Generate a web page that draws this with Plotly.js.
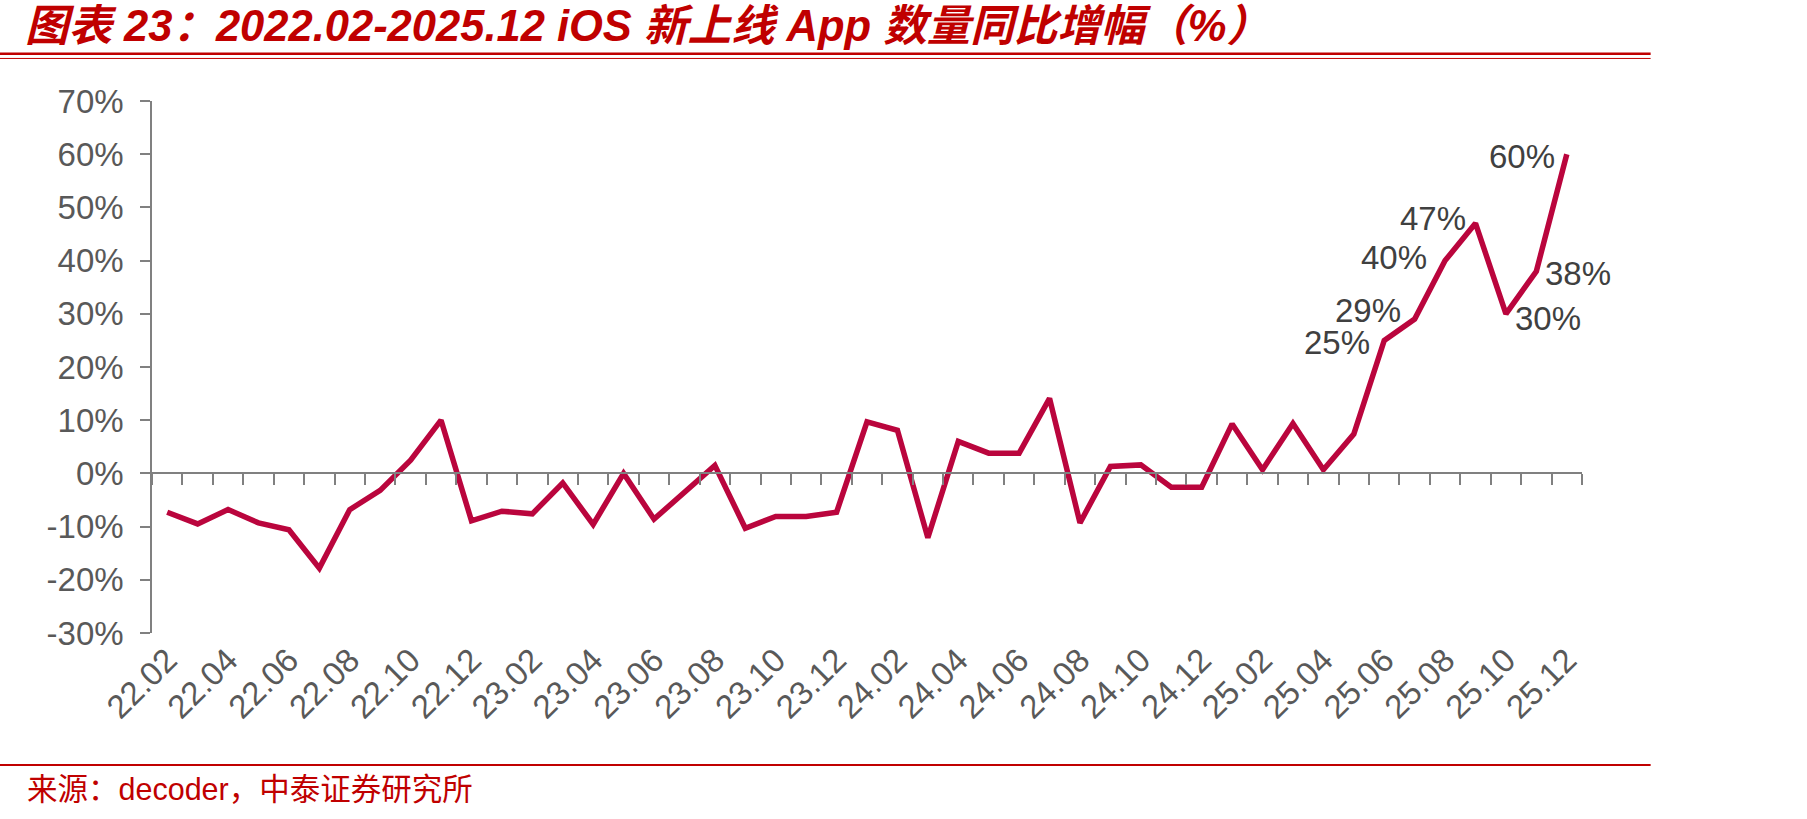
<!DOCTYPE html>
<html>
<head>
<meta charset="utf-8">
<script src="https://cdn.plot.ly/plotly-3.0.1.min.js"></script>
<style>
  html, body { margin: 0; padding: 0; background: #ffffff; }
  #chart { width: 1807px; height: 819px; }
</style>
</head>
<body>
<div id="chart"></div>
<script>
// ---- data ----
const categories = [
  '22.02','22.03','22.04','22.05','22.06','22.07','22.08','22.09','22.10','22.11','22.12',
  '23.01','23.02','23.03','23.04','23.05','23.06','23.07','23.08','23.09','23.10','23.11','23.12',
  '24.01','24.02','24.03','24.04','24.05','24.06','24.07','24.08','24.09','24.10','24.11','24.12',
  '25.01','25.02','25.03','25.04','25.05','25.06','25.07','25.08','25.09','25.10','25.11','25.12'
];
const yoyGrowth = [
  -7.3, -9.5, -6.8, -9.3, -10.6, -17.8, -6.8, -3.2, 2.5, 10.0, -8.9,
  -7.1, -7.6, -1.8, -9.6, 0.0, -8.6, -3.4, 1.5, -10.3, -8.1, -8.1, -7.3,
  9.7, 8.1, -12.1, 6.0, 3.8, 3.8, 14.1, -9.3, 1.3, 1.6, -2.6, -2.6,
  9.3, 0.7, 9.4, 0.7, 7.4, 25, 29, 40, 47, 30, 38, 60
];
const tickLabels = [
  '22.02','22.04','22.06','22.08','22.10','22.12','23.02','23.04','23.06','23.08','23.10','23.12',
  '24.02','24.04','24.06','24.08','24.10','24.12','25.02','25.04','25.06','25.08','25.10','25.12'
];
const labelledCats = ['25.06','25.07','25.08','25.09','25.10','25.11','25.12'];
const yTicks = [-30, -20, -10, 0, 10, 20, 30, 40, 50, 60, 70];

// ---- styling of the value labels (not data) ----
const labelStyle = {
  '25.06': {anchor: 'right', dx: -12, dy: -2},
  '25.07': {anchor: 'right', dx: -12, dy: 9},
  '25.08': {anchor: 'right', dx: -16, dy: 3},
  '25.09': {anchor: 'right', dx: -8,  dy: 5},
  '25.10': {anchor: 'left',  dx: 7,   dy: -5},
  '25.11': {anchor: 'left',  dx: 7,   dy: -2},
  '25.12': {anchor: 'right', dx: -10, dy: -2}
};

const LINE_RED = '#BA053D';
const AXIS_GREY = '#808080';
const TEXT_GREY = '#595959';
const TITLE_RED = '#C00000';
const LATIN = '"Liberation Sans", Arial, "Noto Sans CJK SC", sans-serif';
const FS = 33;

const mainTrace = {
  x: categories,
  y: yoyGrowth,
  type: 'scatter',
  mode: 'lines',
  line: {color: LINE_RED, width: 5.5},
  xaxis: 'x',
  yaxis: 'y',
  hoverinfo: 'x+y',
  showlegend: false
};
// carrier for the axis drawn at 0 (ticks between months)
const axisCarrier = {
  x: categories,
  y: yoyGrowth,
  type: 'scatter',
  mode: 'lines',
  line: {color: LINE_RED, width: 0},
  opacity: 0,
  xaxis: 'x2',
  yaxis: 'y',
  hoverinfo: 'skip',
  showlegend: false
};

const annotations = labelledCats.map(c => {
  const idx = categories.indexOf(c);
  const v = yoyGrowth[idx];
  const s = labelStyle[c];
  return {
    x: idx, y: v, xref: 'x', yref: 'y',
    text: Math.round(v) + '%',
    showarrow: false,
    xanchor: s.anchor, yanchor: 'middle',
    xshift: s.dx, yshift: s.dy,
    font: {family: LATIN, size: FS, color: '#404040'}
  };
});

annotations.push({
  xref: 'paper', yref: 'paper',
  x: -0.0886, y: -0.294,
  xanchor: 'left', yanchor: 'middle',
  text: '来源：decoder，中泰证券研究所',
  showarrow: false,
  font: {family: '"Liberation Sans", "Noto Sans CJK SC", sans-serif', size: 30.5, color: TITLE_RED}
});

const layout = {
  width: 1807,
  height: 819,
  paper_bgcolor: '#ffffff',
  plot_bgcolor: '#ffffff',
  margin: {l: 152, r: 225, t: 101, b: 186, pad: 0},
  showlegend: false,
  title: {
    text: '图表 23：2022.02-2025.12 iOS 新上线 App 数量同比增幅（%）',
    xref: 'container', yref: 'container',
    x: 0.0138, xanchor: 'left',
    y: 0.968, yanchor: 'middle',
    font: {family: '"Liberation Sans", "Noto Sans CJK SC", sans-serif', size: 43.5,
           color: TITLE_RED, weight: 'bold', style: 'italic'}
  },
  xaxis: {
    type: 'category',
    categoryorder: 'array',
    categoryarray: categories,
    range: [-0.5, categories.length - 0.5],
    tickmode: 'array',
    tickvals: tickLabels,
    ticktext: tickLabels,
    tickangle: -45,
    ticks: '',
    showline: false,
    showgrid: false,
    zeroline: false,
    ticklabelstandoff: 0,
    tickfont: {family: LATIN, size: FS, color: TEXT_GREY},
    fixedrange: true
  },
  xaxis2: {
    type: 'category',
    categoryorder: 'array',
    categoryarray: categories,
    range: [-0.5, categories.length - 0.5],
    overlaying: 'x',
    anchor: 'free',
    position: 0.3,
    side: 'bottom',
    showline: true,
    linecolor: AXIS_GREY,
    linewidth: 1.5,
    ticks: 'outside',
    tickson: 'boundaries',
    tickmode: 'linear',
    tick0: 0,
    dtick: 1,
    ticklen: 11,
    tickwidth: 1.5,
    tickcolor: AXIS_GREY,
    showticklabels: false,
    showgrid: false,
    zeroline: false,
    fixedrange: true
  },
  yaxis: {
    range: [-30, 70],
    tickmode: 'array',
    tickvals: yTicks,
    ticktext: yTicks.map(v => v + '%'),
    ticks: 'outside',
    ticklen: 10,
    tickwidth: 1.5,
    tickcolor: AXIS_GREY,
    showline: true,
    linecolor: AXIS_GREY,
    linewidth: 1.5,
    showgrid: false,
    zeroline: false,
    ticklabelstandoff: 10,
    tickfont: {family: LATIN, size: FS, color: TEXT_GREY},
    fixedrange: true
  },
  shapes: [
    {type: 'line', xref: 'paper', yref: 'paper', x0: -0.107, x1: 1.048, y0: 1.089, y1: 1.089,
     line: {color: TITLE_RED, width: 2.5}},
    {type: 'line', xref: 'paper', yref: 'paper', x0: -0.107, x1: 1.048, y0: 1.080, y1: 1.080,
     line: {color: TITLE_RED, width: 1}},
    {type: 'line', xref: 'paper', yref: 'paper', x0: -0.107, x1: 1.048, y0: -0.248, y1: -0.248,
     line: {color: TITLE_RED, width: 2}}
  ],
  annotations: annotations
};

Plotly.newPlot('chart', [axisCarrier, mainTrace], layout, {displayModeBar: false});
</script>
</body>
</html>
